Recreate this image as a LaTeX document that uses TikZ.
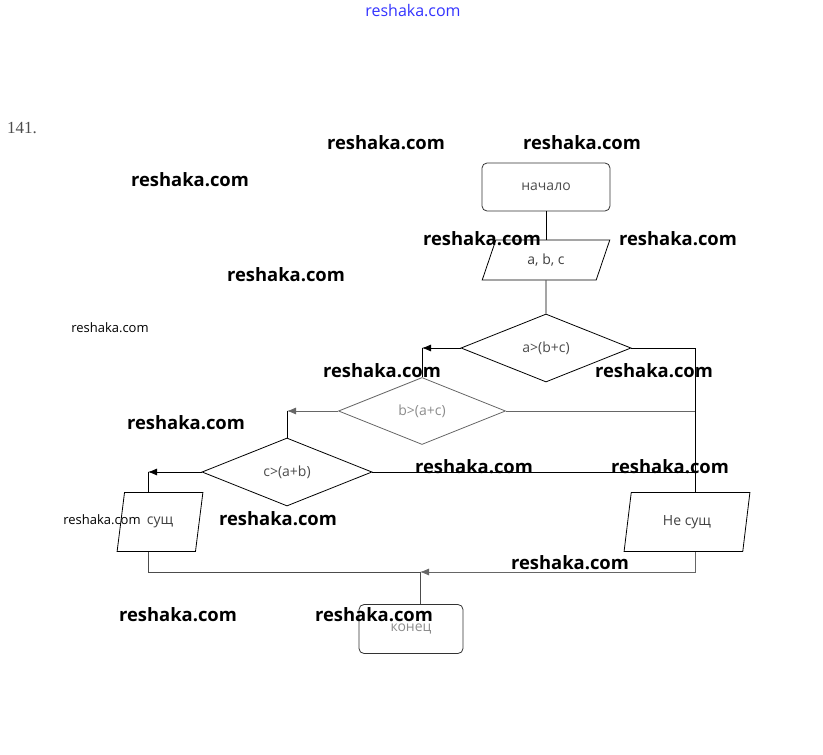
\documentclass[tikz,border=0pt]{standalone}
\usepackage{fontspec}
\setmainfont{Open Sans}
\newfontfamily\numfont{Liberation Serif}
\usepackage{tikz}
\usetikzlibrary{shapes.geometric,arrows,arrows.meta}
\tikzstyle{line} = [draw, -{Latex[length=9pt,width=7pt]}]
\tikzstyle{terminal} = [rectangle, rounded corners=5pt, draw=black!80, minimum width=128pt, minimum height=48pt, text=black!70, font=\fontsize{14}{16}\selectfont]
\tikzstyle{io} = [trapezium, trapezium stretches=true, draw, inner sep=0pt, text=black!75, font=\fontsize{14}{16}\selectfont]
\tikzstyle{decision} = [diamond, draw, inner sep=0pt, minimum width=170pt, minimum height=68pt, text=black!70, font=\fontsize{14}{16}\selectfont]
\tikzstyle{watermark} = [font=\fontsize{18.4}{20}\selectfont\bfseries, text=black]
\tikzstyle{smallwatermark} = [font=\fontsize{13}{15}\selectfont, text=black]

\begin{document}
\begin{tikzpicture}[x=1pt, y=-1pt, line width=0.8pt]
				\useasboundingbox (0,0) rectangle (823,755);
				% Place nodes
				\node [terminal] (start) at (546,187) {начало};
				\node [io, trapezium left angle=68, trapezium right angle=112, minimum width=128pt, minimum height=40pt] (input) at (546,260) {a, b, c};
				\node [decision] (c1) at (546,348) {a>(b+c)};
				\node [decision, minimum width=167pt, minimum height=67pt, draw=black!60, text=black!45] (c2) at (422,411) {b>(a+c)};
				\node [decision] (c3) at (287,472) {c>(a+b)};
				\node [io, trapezium left angle=76, trapezium right angle=104, minimum width=86pt, minimum height=59pt] (yes) at (160,522) {сущ};
				\node [io, trapezium left angle=77, trapezium right angle=103, minimum width=126pt, minimum height=59pt] (no) at (687,522) {Не сущ};
				\node [terminal, minimum width=104pt, minimum height=49pt, text=black!45] (stop) at (411,629) {конец};
				\coordinate (j1) at (c2.north |- c1.west);
				\coordinate (j2) at (c3.north |- c2.west);
				\coordinate (j3) at (148,472);
				\coordinate (r1) at (695,348);
				\coordinate (m) at (420,572);
				% Draw edges
				\path [draw] (start) -- (input);
				\path [draw] (input) -- (c1);
				\path [line] (c1.west) -- (j1);
				\path [draw] (j1) -- (c2.north);
				\path [line, draw=black!60] (c2.west) -- (j2);
				\path [draw] (j2) -- (c3.north);
				\path [line] (c3.west) -- (j3);
				\path [draw] (j3) -- (j3 |- yes.north);
				\path [draw] (c1.east) -- (r1) -- (r1 |- no.north);
				\path [draw, black!60] (c2.east) -- (c2.east -| r1);
				\path [draw] (c3.east) -- (c3.east -| r1);
				\path [draw, black!70] (j3 |- yes.south) -- (j3 |- m) -- (m);
				\path [line, black!60] (r1 |- no.south) -- (r1 |- m) -- (m);
				\path [draw, black!70] (m) -- (m |- stop.north);
				% Page marks
				\node [text=blue!80, font=\fontsize{16}{18}\selectfont] (site) at (413,11) {reshaka.com};
				\node [text=black!70, font=\numfont\fontsize{17}{19}\selectfont] (num) at (22,128) {141.};
				\node [watermark] (w1) at (386,143) {reshaka.com};
				\node [watermark] (w2) at (582,143) {reshaka.com};
				\node [watermark] (w3) at (190,180) {reshaka.com};
				\node [watermark] (w4) at (482,239) {reshaka.com};
				\node [watermark] (w5) at (678,239) {reshaka.com};
				\node [watermark] (w6) at (286,275) {reshaka.com};
				\node [smallwatermark] (w7) at (110,328) {reshaka.com};
				\node [watermark] (w8) at (382,371) {reshaka.com};
				\node [watermark] (w9) at (654,371) {reshaka.com};
				\node [watermark] (w10) at (186,423) {reshaka.com};
				\node [watermark] (w11) at (474,467) {reshaka.com};
				\node [watermark] (w12) at (670,467) {reshaka.com};
				\node [smallwatermark] (w13) at (102,520) {reshaka.com};
				\node [watermark] (w14) at (278,519) {reshaka.com};
				\node [watermark] (w15) at (570,563) {reshaka.com};
				\node [watermark] (w16) at (178,615) {reshaka.com};
				\node [watermark] (w17) at (374,615) {reshaka.com};
\end{tikzpicture}
\end{document}
